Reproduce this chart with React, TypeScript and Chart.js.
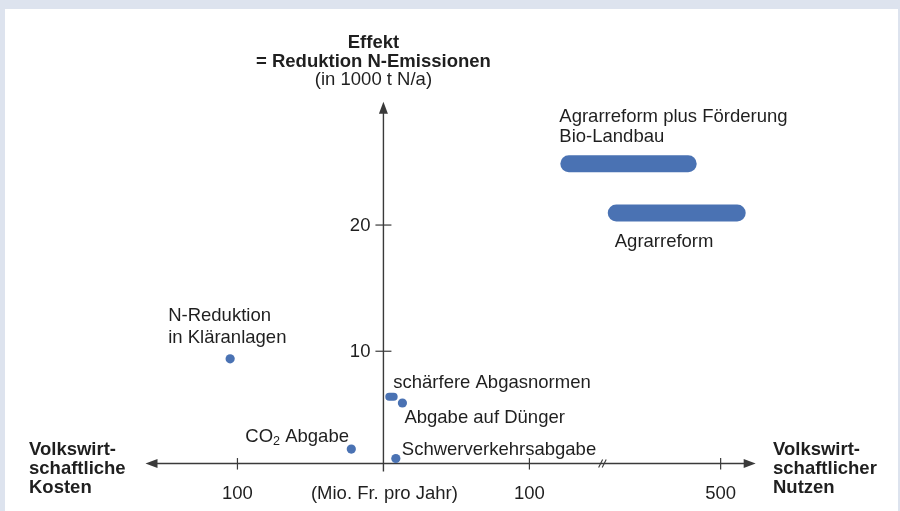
import React, { useEffect, useRef } from "react";
import { Chart, registerables } from "chart.js";

Chart.register(...registerables);

// ---------------- DATA ----------------
// Benefit in Mio. Fr. pro Jahr (negative = volkswirtschaftliche Kosten), effect in 1000 t N/a
const pointMeasures = ["N-Reduktion|in Kläranlagen", "CO2 Abgabe", "Abgabe auf Dünger", "Schwerverkehrsabgabe"];
const pointBenefit = [-105, -22, 13, 8.5];
const pointEffect = [9.4, 2.25, 5.9, 1.5];

const rangeMeasures = ["Agrarreform plus Förderung|Bio-Landbau", "Agrarreform", "schärfere Abgasnormen"];
const rangeBenefitFrom = [127, 191, 4];
const rangeBenefitTo = [404, 549, 7];
const rangeEffect = [24.85, 20.95, 6.4];

const xTickValues = [-100, 100, 500];
const xTickLabels = ["100", "100", "500"];
const yTickValues = [10, 20];
const yTickLabels = ["10", "20"];
const xBreakAt = 150; // axis is broken (//) beyond this value
const xCompression = 0.2314; // scale factor beyond the break
const axisCrossEffect = 1.1;

const titleLines = ["Effekt", "= Reduktion N-Emissionen", "(in 1000 t N/a)"];
const xUnitLabel = "(Mio. Fr. pro Jahr)";
const leftAxisLabel = ["Volkswirt-", "schaftliche", "Kosten"];
const rightAxisLabel = ["Volkswirt-", "schaftlicher", "Nutzen"];

// ---------------- LAYOUT / STYLE ----------------
const BLUE = "#4a72b3";
const AXIS = "#3a3a3a";
const TEXT = "#1f1f1f";
const FONT = "'Liberation Sans', Arial, Helvetica, sans-serif";
const FS = 18.5;

// label offsets relative to the mark (px): [dx, dy of first line center, line height]
const pointLabelOffsets: [number, number, number][] = [
  [-62, -42.5, 22],
  [-106, -12.5, 20],
  [2, 14.5, 20],
  [6, -8.5, 20],
];
// offsets relative to the left end of the bar
const rangeLabelOffsets: [number, number, number][] = [
  [-1, -47, 20],
  [7, 28.5, 20],
  [8, -13.5, 20],
];
const rangeWidths = [17, 17, 8];

const toAxis = (v: number) => (v <= xBreakAt ? v : xBreakAt + (v - xBreakAt) * xCompression);

const X_MIN = -259.5;
const X_MAX = 350.7;
const Y_MIN = -2.296;
const Y_MAX = 37.47;
const X_AXIS_FROM = -163;
const X_AXIS_TO = 255;
const Y_AXIS_TOP = 29.77;
const Y_AXIS_BOTTOM = 0.47;

function arrow(ctx: CanvasRenderingContext2D, x: number, y: number, dir: "left" | "right" | "up") {
  const L = 12;
  const W = 4.5;
  ctx.beginPath();
  if (dir === "left") {
    ctx.moveTo(x, y);
    ctx.lineTo(x + L, y - W);
    ctx.lineTo(x + L, y + W);
  } else if (dir === "right") {
    ctx.moveTo(x, y);
    ctx.lineTo(x - L, y - W);
    ctx.lineTo(x - L, y + W);
  } else {
    ctx.moveTo(x, y);
    ctx.lineTo(x - W, y + L);
    ctx.lineTo(x + W, y + L);
  }
  ctx.closePath();
  ctx.fill();
}

const axesPlugin = {
  id: "schemaAxes",
  beforeDatasetsDraw(chart: any) {
    const ctx: CanvasRenderingContext2D = chart.ctx;
    const xs = chart.scales.x;
    const ys = chart.scales.y;
    const ox = xs.getPixelForValue(0);
    const oy = ys.getPixelForValue(axisCrossEffect);
    ctx.save();
    ctx.strokeStyle = AXIS;
    ctx.fillStyle = AXIS;
    ctx.lineWidth = 1.4;
    // x axis
    const xl = xs.getPixelForValue(X_AXIS_FROM);
    const xr = xs.getPixelForValue(X_AXIS_TO);
    ctx.beginPath();
    ctx.moveTo(xl + 6, oy);
    ctx.lineTo(xr - 6, oy);
    ctx.stroke();
    arrow(ctx, xl, oy, "left");
    arrow(ctx, xr, oy, "right");
    // y axis
    const yt = ys.getPixelForValue(Y_AXIS_TOP);
    const yb = ys.getPixelForValue(Y_AXIS_BOTTOM);
    ctx.beginPath();
    ctx.moveTo(ox, yt + 6);
    ctx.lineTo(ox, yb);
    ctx.stroke();
    arrow(ctx, ox, yt, "up");
    // x ticks
    ctx.lineWidth = 1.2;
    xTickValues.forEach((v) => {
      const px = xs.getPixelForValue(toAxis(v));
      ctx.beginPath();
      ctx.moveTo(px, oy - 5.5);
      ctx.lineTo(px, oy + 6);
      ctx.stroke();
    });
    // y ticks
    yTickValues.forEach((v) => {
      const py = ys.getPixelForValue(v);
      ctx.beginPath();
      ctx.moveTo(ox - 8, py);
      ctx.lineTo(ox + 8, py);
      ctx.stroke();
    });
    // break mark //
    const bx = xs.getPixelForValue(xBreakAt);
    ctx.lineWidth = 1.1;
    [-1.8, 1.8].forEach((d) => {
      ctx.beginPath();
      ctx.moveTo(bx + d - 2, oy + 4);
      ctx.lineTo(bx + d + 2, oy - 4);
      ctx.stroke();
    });

    // tick labels
    ctx.fillStyle = TEXT;
    ctx.font = `${FS}px ${FONT}`;
    ctx.textBaseline = "middle";
    ctx.textAlign = "center";
    xTickValues.forEach((v, i) => {
      ctx.fillText(xTickLabels[i], xs.getPixelForValue(toAxis(v)), oy + 30);
    });
    ctx.fillText(xUnitLabel, ox + 1, oy + 30);
    ctx.textAlign = "right";
    yTickValues.forEach((v, i) => {
      ctx.fillText(yTickLabels[i], ox - 13, ys.getPixelForValue(v) + 1);
    });
    // title
    ctx.textAlign = "center";
    titleLines.forEach((t, i) => {
      ctx.font = i < 2 ? `bold ${FS}px ${FONT}` : `${FS}px ${FONT}`;
      ctx.fillText(t, ox - 10, 43 + i * 18.7);
    });
    // axis end labels
    ctx.font = `bold ${FS}px ${FONT}`;
    ctx.textAlign = "left";
    leftAxisLabel.forEach((t, i) => ctx.fillText(t, 29, oy - 14 + i * 19));
    rightAxisLabel.forEach((t, i) => ctx.fillText(t, 773, oy - 14 + i * 19));
    ctx.restore();
  },
  afterDatasetsDraw(chart: any) {
    const ctx: CanvasRenderingContext2D = chart.ctx;
    const xs = chart.scales.x;
    const ys = chart.scales.y;
    ctx.save();
    ctx.fillStyle = TEXT;
    ctx.font = `${FS}px ${FONT}`;
    ctx.textBaseline = "middle";
    ctx.textAlign = "left";
    const drawLabel = (label: string, x: number, y: number, lh: number) => {
      label.split("|").forEach((line, i) => {
        const ly = y + i * lh;
        if (line.startsWith("CO2")) {
          ctx.font = `${FS}px ${FONT}`;
          ctx.fillText("CO", x, ly);
          const w = ctx.measureText("CO").width;
          ctx.font = `${FS * 0.68}px ${FONT}`;
          ctx.fillText("2", x + w, ly + 5);
          const w2 = ctx.measureText("2").width;
          ctx.font = `${FS}px ${FONT}`;
          ctx.fillText(line.slice(3), x + w + w2, ly);
        } else {
          ctx.fillText(line, x, ly);
        }
      });
    };
    pointMeasures.forEach((m, i) => {
      const px = xs.getPixelForValue(toAxis(pointBenefit[i]));
      const py = ys.getPixelForValue(pointEffect[i]);
      const [dx, dy, lh] = pointLabelOffsets[i];
      drawLabel(m, px + dx, py + dy, lh);
    });
    rangeMeasures.forEach((m, i) => {
      const px = xs.getPixelForValue(toAxis(rangeBenefitFrom[i])) - rangeWidths[i] / 2;
      const py = ys.getPixelForValue(rangeEffect[i]);
      const [dx, dy, lh] = rangeLabelOffsets[i];
      drawLabel(m, px + dx, py + dy, lh);
    });
    ctx.restore();
  },
};

export default function App() {
  const canvasRef = useRef<HTMLCanvasElement | null>(null);

  useEffect(() => {
    if (!canvasRef.current) return;
    const pointData = pointMeasures.map((_, i) => ({ x: toAxis(pointBenefit[i]), y: pointEffect[i] }));
    const rangeSets = rangeMeasures.map((m, i) => ({
      label: m,
      data: [
        { x: toAxis(rangeBenefitFrom[i]), y: rangeEffect[i] },
        { x: toAxis(rangeBenefitTo[i]), y: rangeEffect[i] },
      ],
      showLine: true,
      borderColor: BLUE,
      backgroundColor: BLUE,
      borderWidth: rangeWidths[i],
      borderCapStyle: "round" as const,
      pointRadius: 0,
      pointHoverRadius: 0,
    }));
    const chart = new Chart(canvasRef.current, {
      type: "scatter",
      data: {
        datasets: [
          ...rangeSets,
          {
            label: "Massnahmen",
            data: pointData,
            backgroundColor: BLUE,
            borderColor: BLUE,
            borderWidth: 0,
            pointRadius: 4.6,
            pointHoverRadius: 4.6,
          },
        ],
      },
      options: {
        responsive: false,
        animation: false,
        events: [],
        layout: { padding: 0 },
        plugins: { legend: { display: false }, tooltip: { enabled: false } },
        scales: {
          x: { type: "linear", display: false, min: X_MIN, max: X_MAX },
          y: { type: "linear", display: false, min: Y_MIN, max: Y_MAX },
        },
      },
      plugins: [axesPlugin],
    });
    return () => chart.destroy();
  }, []);

  return (
    <div style={{ position: "absolute", left: 0, top: 0, width: 900, height: 511, background: "#dde3ee", overflow: "hidden" }}>
      <div style={{ position: "absolute", left: 5, top: 9, width: 893, height: 502, background: "#ffffff" }} />
      <canvas ref={canvasRef} width={900} height={511} style={{ position: "absolute", left: 0, top: 0, width: 900, height: 511 }} />
    </div>
  );
}
